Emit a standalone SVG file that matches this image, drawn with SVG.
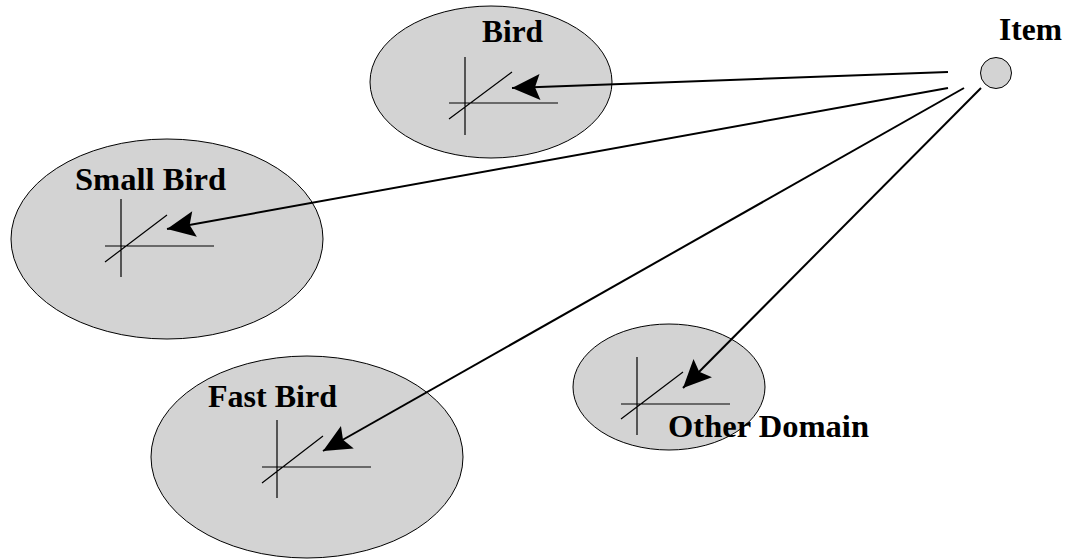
<svg xmlns="http://www.w3.org/2000/svg" width="1065" height="560" viewBox="0 0 1065 560">
<style>
.bg{fill:#ffffff}
.dom{fill:#d3d3d3;stroke:#000;stroke-width:1}
.ax{stroke:#000;stroke-width:1.2;fill:none}
.lbl{font-family:"Liberation Serif","Times New Roman",serif;font-weight:bold;font-size:31px;fill:#000}
.con{stroke:#000;stroke-width:2;fill:none;marker-end:url(#ah)}
</style>
<defs>
<marker id="ah" markerUnits="userSpaceOnUse" viewBox="-30 -15 32 30" markerWidth="32" markerHeight="30" refX="0" refY="0" orient="auto">
<path d="M0,0 L-28,-13 L-23,0 L-28,13 z" fill="#000"/>
</marker>
</defs>
<rect class="bg" x="0" y="0" width="1065" height="560"/>
<g id="bird">
<ellipse class="dom" cx="491" cy="82" rx="121" ry="76"/>
<path class="ax" d="M465,57 V135 M449,103 H558 M449,119 L512,72"/>
<text class="lbl" x="482" y="42" textLength="61" lengthAdjust="spacingAndGlyphs">Bird</text>
</g>
<g id="small-bird">
<ellipse class="dom" cx="167" cy="239" rx="156" ry="100"/>
<path class="ax" d="M121,199 V277 M105,246 H214 M105,262 L167,215"/>
<text class="lbl" x="75" y="190" textLength="151" lengthAdjust="spacingAndGlyphs">Small Bird</text>
</g>
<g id="fast-bird">
<ellipse class="dom" cx="307" cy="457" rx="156" ry="101"/>
<path class="ax" d="M277,420 V498 M262,467 H371 M262,483 L323,436"/>
<text class="lbl" x="208" y="407" textLength="129" lengthAdjust="spacingAndGlyphs">Fast Bird</text>
</g>
<g id="other-domain">
<ellipse class="dom" cx="669" cy="387" rx="96" ry="63"/>
<path class="ax" d="M637,357 V435 M621,404 H730 M621,419 L683,372"/>
<text class="lbl" x="668" y="437" textLength="201" lengthAdjust="spacingAndGlyphs">Other Domain</text>
</g>
<g id="item">
<circle cx="996" cy="73" r="15.5" fill="#d3d3d3" stroke="#000" stroke-width="1"/>
<text class="lbl" x="999" y="40" textLength="63" lengthAdjust="spacingAndGlyphs">Item</text>
</g>
<g id="connectors">
<line class="con" x1="948" y1="72" x2="512" y2="88"/>
<line class="con" x1="948" y1="88" x2="167" y2="229"/>
<line class="con" x1="964" y1="88" x2="323" y2="451"/>
<line class="con" x1="981" y1="88" x2="683" y2="388"/>
</g>
</svg>
